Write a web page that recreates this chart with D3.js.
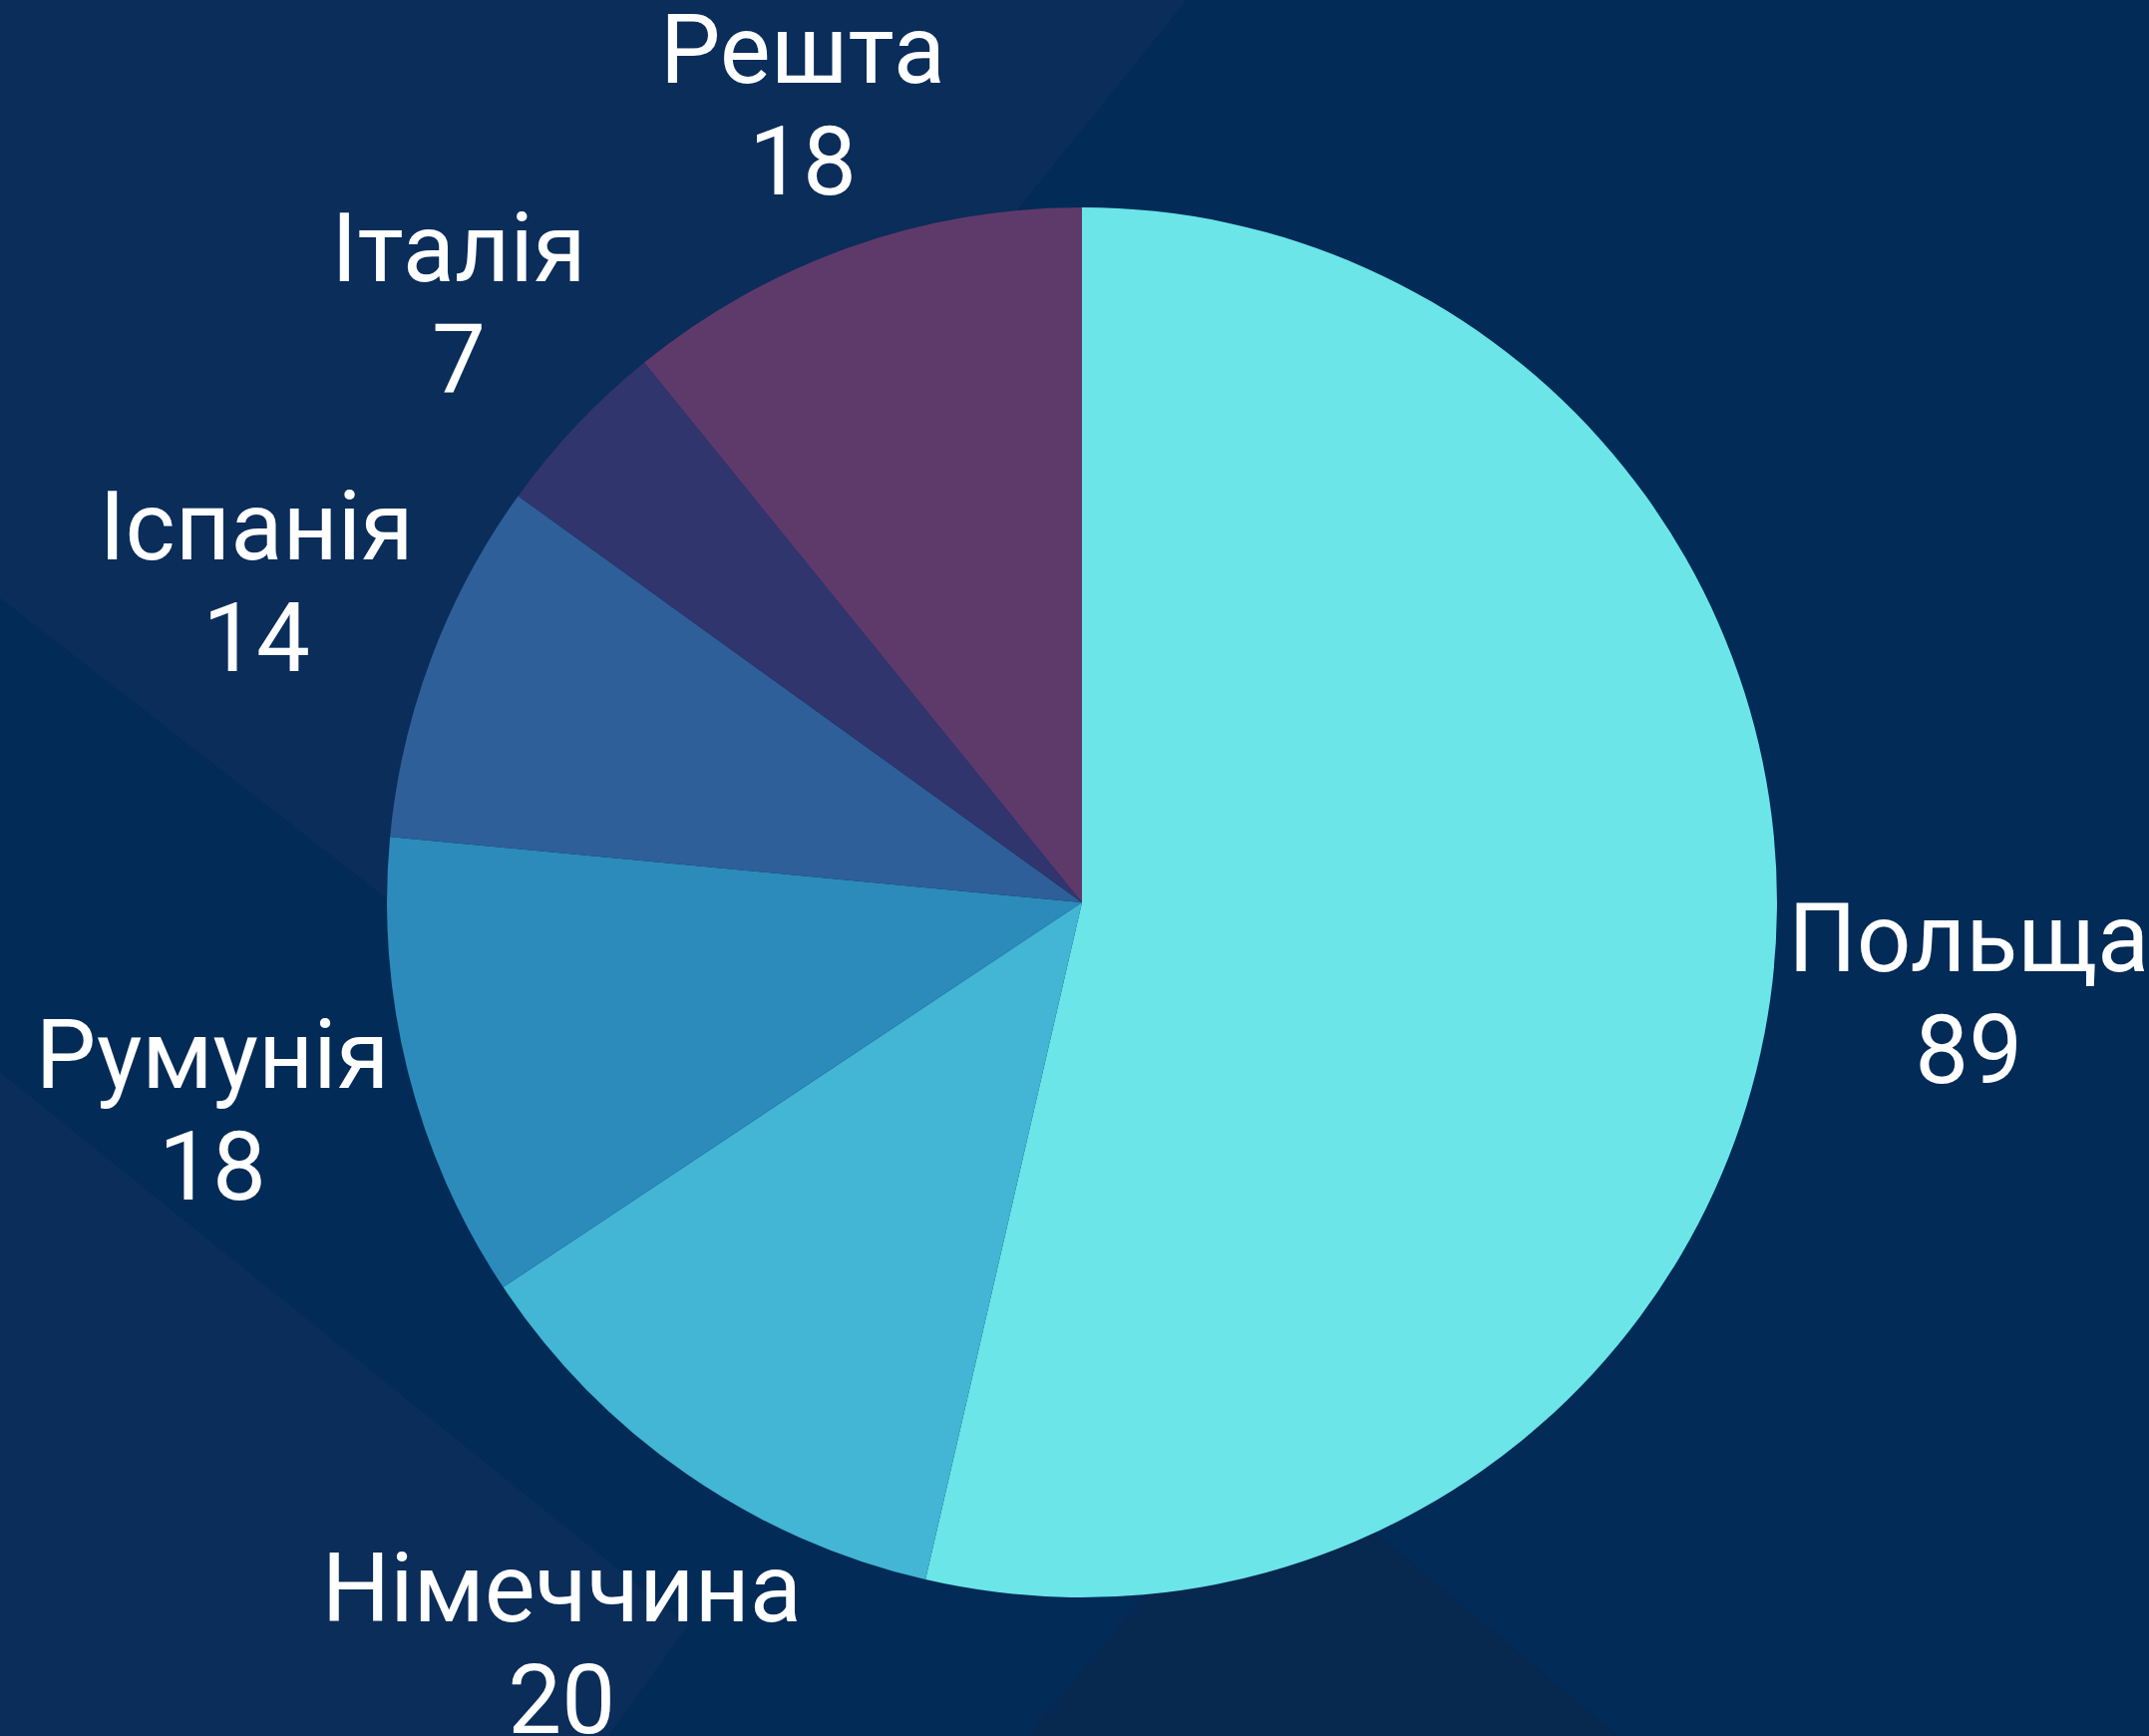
<!DOCTYPE html>
<html lang="uk">
  <head>
    <meta charset="UTF-8" />
    <title>Pie</title>
    <style>
      html, body { margin: 0; padding: 0; background: #022b57; }
      svg { display: block; }
    </style>
  </head>
  <body>
    <div id="chart"></div>

    <script src="https://cdn.jsdelivr.net/npm/d3@7"></script>
    <script>
      // data
      var countries = ["Польща", "Німеччина", "Румунія", "Іспанія", "Італія", "Решта"];
      var values = [89, 20, 18, 14, 7, 18];
      var colors = ["#6be5e8", "#42b6d4", "#2c8bba", "#2e5f98", "#30356e", "#5e3a6a"];

      var width = 2155;
      var height = 1741;
      var cx = 1085;
      var cy = 905;
      var radius = 697;
      var labelGap = 8;
      var fontSize = 96;
      var capHeight = 69;
      var lineGap = 112;

      var svg = d3.select("#chart")
                  .append("svg")
                  .attr("width", width)
                  .attr("height", height);

      // background decoration
      var bg = svg.append("g");
      bg.append("rect")
        .attr("width", width)
        .attr("height", height)
        .attr("fill", "#022b57");
      bg.append("polygon")
        .attr("points", "0,0 1190,0 434,937 0,600")
        .attr("fill", "#0a2d5a");
      bg.append("polygon")
        .attr("points", "0,1075 690,1630 610,1741 0,1741")
        .attr("fill", "#0a2d5a");
      bg.append("polygon")
        .attr("points", "1031,1741 1274,1449 1622,1741")
        .attr("fill", "#07284f");

      var data = countries.map(function(c, i){
        return {name: c, value: values[i], color: colors[i]};
      });

      var pie = d3.pie()
                  .sort(null)
                  .value(function(d){ return d.value; });

      var arc = d3.arc()
                  .innerRadius(0)
                  .outerRadius(radius);

      var g = svg.append("g")
                 .attr("transform", "translate(" + cx + "," + cy + ")");

      g.selectAll("path")
       .data(pie(data))
       .enter()
       .append("path")
       .attr("d", arc)
       .attr("fill", function(d){ return d.data.color; });

      var labels = g.selectAll("text")
                    .data(pie(data))
                    .enter()
                    .append("text")
                    .attr("text-anchor", "middle")
                    .attr("font-family", "Roboto, 'Noto Sans', sans-serif")
                    .attr("font-size", fontSize + "px")
                    .attr("fill", "#ffffff");

      // box = cap top of the name down to the baseline of the number
      var boxH = capHeight + lineGap;
      var b1 = capHeight - boxH / 2 - 11;

      labels.append("tspan")
            .attr("x", 0)
            .attr("y", b1)
            .text(function(d){ return d.data.name; });

      labels.append("tspan")
            .attr("x", 0)
            .attr("y", b1 + lineGap)
            .text(function(d){ return d.data.value; });

      // push each label box out until it just clears the pie
      labels.attr("transform", function(d){
        var a = (d.startAngle + d.endAngle) / 2;
        var ux = Math.sin(a), uy = -Math.cos(a);
        var w = this.getBBox().width;
        var dist = radius + labelGap + Math.abs(ux) * w / 2 + Math.abs(uy) * boxH / 2;
        return "translate(" + (ux * dist) + "," + (uy * dist) + ")";
      });
    </script>
  </body>
</html>
